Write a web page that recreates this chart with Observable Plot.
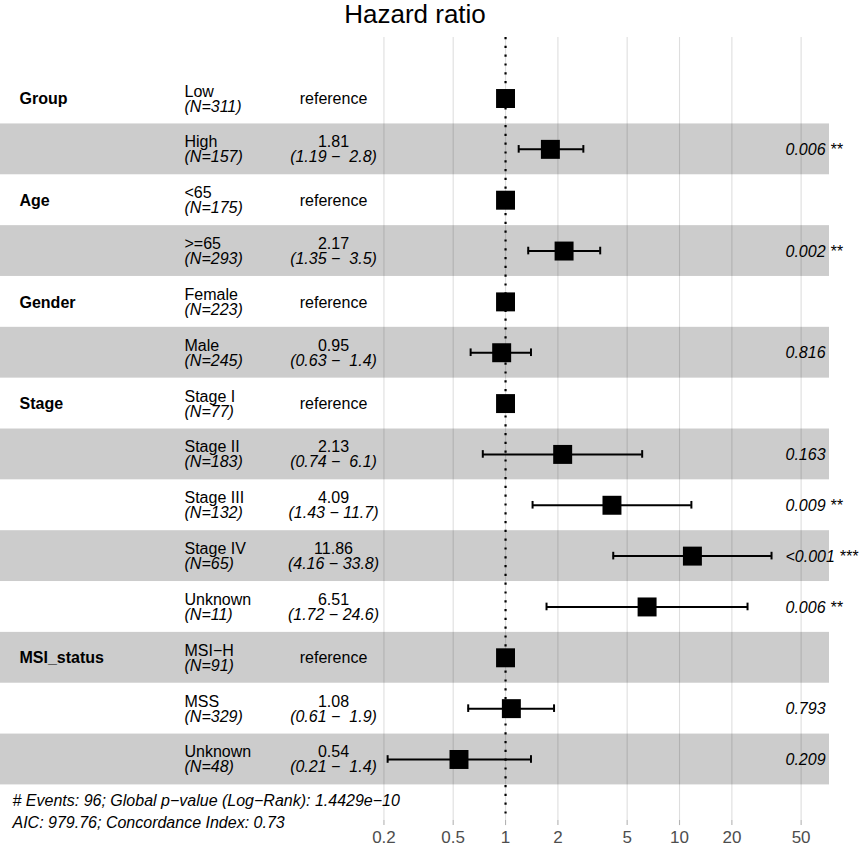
<!DOCTYPE html>
<html>
<head>
<meta charset="utf-8">
<script src="https://cdn.jsdelivr.net/npm/d3@7"></script>
<script src="https://cdn.jsdelivr.net/npm/@observablehq/plot@0.6"></script>
<style>
  html, body { margin: 0; padding: 0; background: #fff; }
</style>
</head>
<body>
<div id="chart"></div>
<script>
// ---- data ----
const variables = ["Group", "", "Age", "", "Gender", "", "Stage", "", "", "", "", "MSI_status", "", ""];
const levels = ["Low", "High", "<65", ">=65", "Female", "Male", "Stage I", "Stage II", "Stage III", "Stage IV", "Unknown", "MSI\u2212H", "MSS", "Unknown"];
const counts = [311, 157, 175, 293, 223, 245, 77, 183, 132, 65, 11, 91, 329, 48];
const hazard = [1, 1.81, 1, 2.17, 1, 0.95, 1, 2.13, 4.09, 11.86, 6.51, 1, 1.08, 0.54];
const isReference = [true, false, true, false, true, false, true, false, false, false, false, true, false, false];
const ciLow = [null, 1.19, null, 1.35, null, 0.63, null, 0.74, 1.43, 4.16, 1.72, null, 0.61, 0.21];
const ciHigh = [null, 2.8, null, 3.5, null, 1.4, null, 6.1, 11.7, 33.8, 24.6, null, 1.9, 1.4];
const pLabels = ["", "0.006 **", "", "0.002 **", "", "0.816", "", "0.163", "0.009 **", "<0.001 ***", "0.006 **", "", "0.793", "0.209"];
const breaks = [0.2, 0.5, 1, 2, 5, 10, 20, 50];
const tickLabels = ["0.2", "0.5", "1", "2", "5", "10", "20", "50"];
const title = "Hazard ratio";
const footer = [
  "# Events: 96; Global p\u2212value (Log\u2212Rank): 1.4429e\u221210",
  "AIC: 979.76; Concordance Index: 0.73"
];

// ---- table built from the arrays ----
const rows = levels.map((lv, i) => ({
  row: i + 1,
  variable: variables[i],
  level: lv,
  n: `(N=${counts[i]})`,
  hr: hazard[i],
  ref: isReference[i],
  low: ciLow[i],
  high: ciHigh[i],
  est: isReference[i] ? "reference" : hazard[i].toFixed(2),
  ci: isReference[i] ? "" : `(${ciLow[i].toFixed(2)} \u2212 ${String(ciHigh[i]).padStart(4, "\u00a0")})`,
  p: pLabels[i]
}));
const ticks = breaks.map((b, i) => ({value: b, label: tickLabels[i]}));
const ciRows = rows.filter(d => !d.ref);
const bandRows = rows.filter(d => d.row % 2 === 0);
const capHalf = 0.075;
const fs = 16;
const yTop = -0.2, yBottom = 15.2;

const chart = Plot.plot({
  width: 865,
  height: 846,
  marginLeft: 0,
  marginRight: 36,
  marginTop: 37,
  marginBottom: 26,
  style: {fontFamily: "'Liberation Sans', Arial, Helvetica, sans-serif", fontSize: "16px", background: "#fff", color: "#000", overflow: "visible"},
  x: {type: "log", domain: [0.00125, 72.8], label: null, axis: null},
  y: {domain: [yBottom, yTop], axis: null},
  marks: [
    // grid lines at the breaks
    Plot.ruleX(breaks, {stroke: "#dedede", strokeWidth: 1.1}),
    // alternating bands
    Plot.rect(bandRows, {y1: d => d.row - 0.5, y2: d => d.row + 0.5, fill: "#000", fillOpacity: 0.2}),
    // axis ticks and labels
    Plot.ruleX(ticks, {x: "value", y1: yBottom, y2: yBottom + 0.1, stroke: "#b3b3b3", strokeWidth: 1.1}),
    Plot.text(ticks, {x: "value", text: "label", frameAnchor: "bottom", lineAnchor: "top", dy: 10, fontSize: 17, fill: "#4d4d4d"}),
    // error bars
    Plot.ruleY(ciRows, {y: "row", x1: "low", x2: "high", stroke: "#000", strokeWidth: 2}),
    Plot.ruleX(ciRows, {x: "low", y1: d => d.row - capHalf, y2: d => d.row + capHalf, stroke: "#000", strokeWidth: 2}),
    Plot.ruleX(ciRows, {x: "high", y1: d => d.row - capHalf, y2: d => d.row + capHalf, stroke: "#000", strokeWidth: 2}),
    // point estimates
    Plot.dot(rows, {x: "hr", y: "row", symbol: "square", r: 10.7, fill: "#000", stroke: null}),
    // reference line
    Plot.ruleX([1], {stroke: "#000", strokeWidth: 2.2, strokeDasharray: "2.2,6.6"}),
    // variable names
    Plot.text(rows.filter(d => d.variable), {y: "row", text: "variable", frameAnchor: "left", dx: 19, textAnchor: "start", lineAnchor: "bottom", dy: 5.7, fontWeight: "bold", fontSize: fs, fill: "#000"}),
    // levels
    Plot.text(rows, {y: "row", text: "level", frameAnchor: "left", dx: 184, textAnchor: "start", lineAnchor: "bottom", dy: -2, fontSize: fs, fill: "#000"}),
    Plot.text(rows, {y: "row", text: "n", frameAnchor: "left", dx: 184, textAnchor: "start", lineAnchor: "bottom", dy: 13, fontSize: fs, fontStyle: "italic", fill: "#000"}),
    // estimates
    Plot.text(rows.filter(d => d.ref), {y: "row", text: "est", frameAnchor: "left", dx: 333, textAnchor: "middle", lineAnchor: "bottom", dy: 5.7, fontSize: fs, fill: "#000"}),
    Plot.text(ciRows, {y: "row", text: "est", frameAnchor: "left", dx: 333, textAnchor: "middle", lineAnchor: "bottom", dy: -2, fontSize: fs, fill: "#000"}),
    Plot.text(ciRows, {y: "row", text: "ci", frameAnchor: "left", dx: 333, textAnchor: "middle", lineAnchor: "bottom", dy: 13, fontSize: fs, fontStyle: "italic", fill: "#000"}),
    // p-values
    Plot.text(rows.filter(d => d.p), {y: "row", text: "p", frameAnchor: "left", dx: 785, textAnchor: "start", lineAnchor: "bottom", dy: 5.7, fontSize: fs, fontStyle: "italic", fill: "#000"}),
    // footer
    Plot.text([footer.join("\n")], {frameAnchor: "bottom-left", dx: 12, dy: 7, textAnchor: "start", lineAnchor: "bottom", lineHeight: 1.375, fontSize: fs, fontStyle: "italic", fill: "#000"}),
    // title
    Plot.text([title], {frameAnchor: "top", lineAnchor: "bottom", dy: -15, fontSize: 26, fill: "#000"})
  ]
});
document.getElementById("chart").appendChild(chart);
</script>
</body>
</html>
